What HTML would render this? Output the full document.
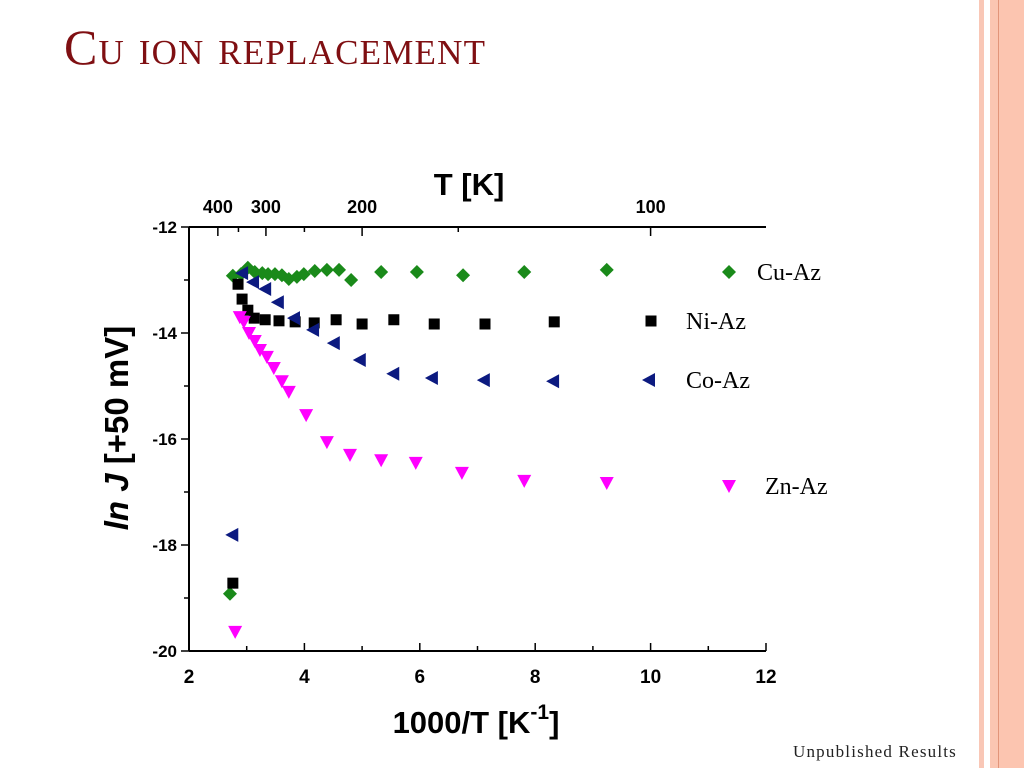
<!DOCTYPE html>
<html><head><meta charset="utf-8"><style>
body{margin:0;width:1024px;height:768px;background:#fff;overflow:hidden;position:relative;font-family:"Liberation Sans",sans-serif}
.title{position:absolute;left:64px;top:18px;font-family:"Liberation Serif",serif;font-size:50px;color:#7f0f12;font-variant:small-caps;letter-spacing:1.2px;white-space:nowrap}
.st{position:absolute;top:0;height:768px}
.foot{position:absolute;left:793px;top:742px;font-family:"Liberation Serif",serif;font-size:17px;color:#222;letter-spacing:1.2px;white-space:nowrap}
</style></head><body>
<div class="st" style="left:979px;width:5px;background:#f9c7b6"></div>
<div class="st" style="left:990px;width:8px;background:#fbc6b2"></div>
<div class="st" style="left:998px;width:1px;background:#e2957a"></div>
<div class="st" style="left:999px;width:25px;background:#fcc5b0"></div>
<div class="title">Cu ion replacement</div>
<div class="foot">Unpublished Results</div>
<svg id="chart" width="1024" height="768" style="position:absolute;left:0;top:0"></svg>
<script>
const cuX=[2.71,2.76,2.90,3.02,3.14,3.27,3.37,3.49,3.61,3.73,3.87,3.99,4.18,4.39,4.60,4.81,5.33,5.95,6.75,7.81,9.24];
const cuY=[-18.92,-12.92,-12.89,-12.77,-12.85,-12.87,-12.89,-12.89,-12.91,-12.98,-12.94,-12.89,-12.83,-12.81,-12.81,-13.0,-12.85,-12.85,-12.91,-12.85,-12.81];
const niX=[2.76,2.85,2.92,3.02,3.13,3.32,3.56,3.84,4.17,4.55,5.0,5.55,6.25,7.13,8.33];
const niY=[-18.72,-13.08,-13.36,-13.57,-13.72,-13.75,-13.77,-13.79,-13.81,-13.75,-13.83,-13.75,-13.83,-13.83,-13.79];
const coX=[2.75,2.92,3.11,3.32,3.54,3.82,4.15,4.51,4.96,5.54,6.21,7.11,8.31];
const coY=[-17.81,-12.87,-13.04,-13.17,-13.42,-13.72,-13.94,-14.19,-14.51,-14.77,-14.85,-14.89,-14.91];
const znX=[2.80,2.88,2.95,3.04,3.14,3.23,3.35,3.47,3.61,3.73,4.03,4.39,4.79,5.33,5.93,6.73,7.81,9.24];
const znY=[-19.64,-13.70,-13.79,-14.0,-14.15,-14.32,-14.45,-14.66,-14.91,-15.11,-15.55,-16.06,-16.30,-16.40,-16.45,-16.64,-16.79,-16.83];
const xTicks=[2,4,6,8,10,12];
const yTicks=[-12,-14,-16,-18,-20];
const tTicks=[400,300,200,100];
const tMinor=[500,350,250,150];
const NS="http://www.w3.org/2000/svg";
const svg=document.getElementById('chart');
const X0=189,X1=766,Y0=227,Y1=651;
const sx=v=>X0+(v-2)/10*(X1-X0);
const sy=v=>Y0+(-12-v)/8*(Y1-Y0);
function mk(tag,attrs,parent){const e=document.createElementNS(NS,tag);for(const k in attrs)e.setAttribute(k,attrs[k]);(parent||svg).appendChild(e);return e;}
function txt(x,y,s,size,anchor,name){const t=mk('text',{x:x,y:y,'font-size':size,'font-weight':'bold','text-anchor':anchor,'font-family':'Liberation Sans, sans-serif'});t.textContent=s;

return t;}
let l;
l=mk('line',{x1:X0,y1:Y1,x2:X1,y2:Y1,stroke:'#000','stroke-width':2});


l=mk('line',{x1:X0,y1:Y0,x2:X0,y2:Y1,stroke:'#000','stroke-width':2});


l=mk('line',{x1:X0,y1:Y0,x2:X1,y2:Y0,stroke:'#000','stroke-width':2});


for(let v=2;v<=12;v++){const x=sx(v);const big=v%2==0;
 l=mk('line',{x1:x,y1:Y1,x2:x,y2:Y1-(big?8:5),stroke:'#000','stroke-width':1.5});
 
 }
xTicks.forEach(v=>txt(sx(v),Y1+32,String(v),19,'middle','x-tick-label'));
for(let v=-12;v>=-20;v--){const y=sy(v);const big=v%2==0;
 l=mk('line',{x1:X0,y1:y,x2:X0-(big?8:5),y2:y,stroke:'#000','stroke-width':1.5});
 
 }
yTicks.forEach(v=>txt(X0-12,sy(v)+6,String(v),17,'end','y-tick-label'));
tTicks.forEach(t=>{const x=sx(1000/t);
 l=mk('line',{x1:x,y1:Y0,x2:x,y2:Y0+9,stroke:'#000','stroke-width':1.5});
 
 
 txt(x,Y0-14,String(t),18,'middle','top-tick-label');});
tMinor.forEach(t=>{const x=sx(1000/t);
 l=mk('line',{x1:x,y1:Y0,x2:x,y2:Y0+5,stroke:'#000','stroke-width':1.5});
 
 });
txt(469,195,'T [K]',31,'middle','top-axis-title');
const xt=txt(476,733,'1000/T [K',31,'middle','x-axis-title');
const sup=mk('tspan',{dy:-14,'font-size':21});sup.textContent='-1';
const cl=mk('tspan',{dy:14});cl.textContent=']';xt.appendChild(sup);xt.appendChild(cl);
const yt=mk('text',{transform:'translate(128,428) rotate(-90)','font-size':33,'font-weight':'bold','text-anchor':'middle','font-family':'Liberation Sans, sans-serif'});


const it=mk('tspan',{'font-style':'italic'},yt);it.textContent='ln J';
const rest=mk('tspan',{},yt);rest.textContent=' [+50 mV]';
function marker(type,x,y,color){let p;
 if(type=='d')p=`${x},${y-7} ${x+7},${y} ${x},${y+7} ${x-7},${y}`;
 else if(type=='s')p=`${x-5.5},${y-5.5} ${x+5.5},${y-5.5} ${x+5.5},${y+5.5} ${x-5.5},${y+5.5}`;
 else if(type=='l')p=`${x-7},${y} ${x+6},${y-7} ${x+6},${y+7}`;
 else p=`${x-7},${y-6} ${x+7},${y-6} ${x},${y+7}`;
 return mk('polygon',{points:p,fill:color});}
const series=[[cuX,cuY,'d','#1a8a1a','cu-az'],[niX,niY,'s','#000','ni-az'],[coX,coY,'l','#0c1a80','co-az'],[znX,znY,'t','#ff00ff','zn-az']];
series.forEach(([xs,ys,tp,c,n])=>{xs.forEach((v,i)=>{const m=marker(tp,sx(v),sy(ys[i]),c);
 
 });});
const leg=[['d','#1a8a1a',729,272,'Cu-Az',757],['s','#000',651,321,'Ni-Az',686],['l','#0c1a80',649,380,'Co-Az',686],['t','#ff00ff',729,486,'Zn-Az',765]];
leg.forEach(([tp,c,x,y,lab,tx])=>{const m=marker(tp,x,y,c);
 
 
 const t=mk('text',{x:tx,y:y+8,'font-size':24,'font-family':'Liberation Serif, serif'});t.textContent=lab;
 
 });
</script>
</body></html>
